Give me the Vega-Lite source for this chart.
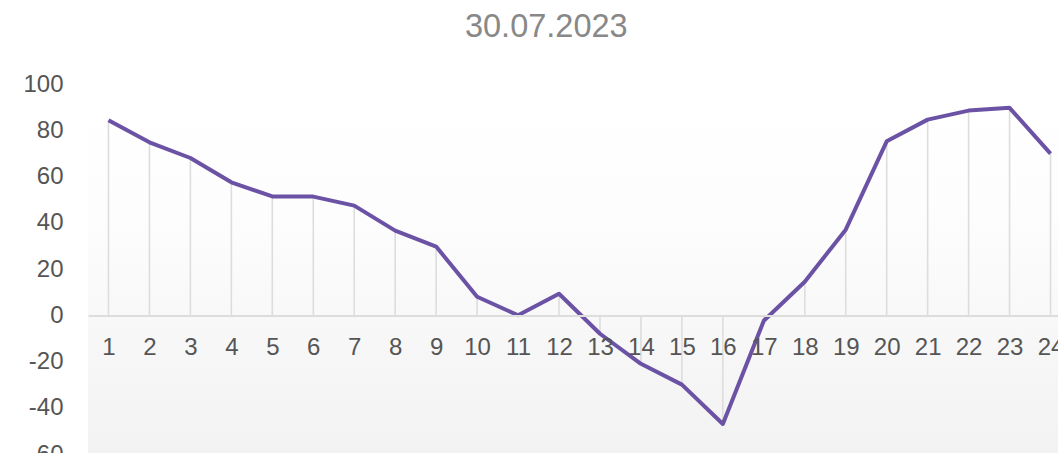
{
  "$schema": "https://vega.github.io/schema/vega-lite/v6.json",
  "autosize": {"type": "none"},
  "padding": {"left": 88, "top": 84, "right": 0, "bottom": 0},
  "width": 983,
  "height": 370,
  "background": "white",
  "config": {"view": {"stroke": null}, "font": "Liberation Sans"},
  "title": {
    "text": "30.07.2023",
    "fontSize": 32.5,
    "fontWeight": "normal",
    "color": "#888888",
    "anchor": "start",
    "dx": 442,
    "offset": 29,
    "font": "Liberation Sans"
  },
  "data": {
    "values": [
      {"hour": 1, "value": 84.3},
      {"hour": 2, "value": 74.8},
      {"hour": 3, "value": 68.0},
      {"hour": 4, "value": 57.5},
      {"hour": 5, "value": 51.4},
      {"hour": 6, "value": 51.3},
      {"hour": 7, "value": 47.4},
      {"hour": 8, "value": 36.6},
      {"hour": 9, "value": 29.7},
      {"hour": 10, "value": 8.0},
      {"hour": 11, "value": 0.0},
      {"hour": 12, "value": 9.3},
      {"hour": 13, "value": -8.0},
      {"hour": 14, "value": -21.0},
      {"hour": 15, "value": -30.0},
      {"hour": 16, "value": -47.0},
      {"hour": 17, "value": -2.4},
      {"hour": 18, "value": 14.5},
      {"hour": 19, "value": 37.0},
      {"hour": 20, "value": 75.2},
      {"hour": 21, "value": 84.6},
      {"hour": 22, "value": 88.5},
      {"hour": 23, "value": 89.7},
      {"hour": 24, "value": 69.9}
    ]
  },
  "layer": [
    {
      "mark": {
        "type": "rect",
        "fill": {
          "gradient": "linear",
          "x1": 0, "y1": 0, "x2": 0, "y2": 1,
          "stops": [
            {"offset": 0, "color": "#ffffff"},
            {"offset": 0.35, "color": "#fdfdfd"},
            {"offset": 1, "color": "#f2f2f2"}
          ]
        }
      },
      "encoding": {
        "x": {"value": 0},
        "x2": {"value": "width"},
        "y": {"value": 0},
        "y2": {"value": "height"}
      }
    },
    {
      "mark": {"type": "rule", "color": "#dddddd", "strokeWidth": 1.6},
      "encoding": {
        "x": {
          "field": "hour",
          "type": "ordinal",
          "scale": {"type": "point", "padding": 0.5},
          "axis": {
            "title": null,
            "labelAngle": 0,
            "labelFontSize": 24,
            "labelColor": "#555555",
            "labelFont": "Liberation Sans",
            "ticks": false,
            "labelPadding": 20,
            "domain": true,
            "domainColor": "#dddddd",
            "domainWidth": 2,
            "offset": -138.6,
            "zindex": 1
          }
        },
        "y": {
          "field": "value",
          "type": "quantitative",
          "scale": {"domain": [-60, 100], "nice": false, "zero": false},
          "axis": {
            "title": null,
            "values": [-60, -40, -20, 0, 20, 40, 60, 80, 100],
            "labelExpr": "datum.value + ''",
            "labelFontSize": 24,
            "labelColor": "#555555",
            "labelFont": "Liberation Sans",
            "ticks": false,
            "domain": false,
            "grid": false,
            "labelPadding": 25
          }
        },
        "y2": {"datum": 0}
      }
    },
    {
      "mark": {"type": "line", "color": "#6b52a5", "strokeWidth": 4, "strokeJoin": "round"},
      "encoding": {
        "x": {"field": "hour", "type": "ordinal"},
        "y": {"field": "value", "type": "quantitative"}
      }
    }
  ]
}
